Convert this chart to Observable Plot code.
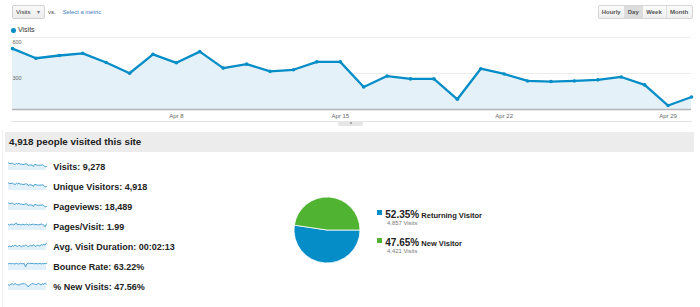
<!DOCTYPE html>
<html><head><meta charset="utf-8">
<script src="https://cdn.jsdelivr.net/npm/d3@7"></script>
<script src="https://cdn.jsdelivr.net/npm/@observablehq/plot@0.6"></script>
<style>
body{margin:0;background:#fff;font-family:Arial,"Liberation Sans",sans-serif;}
#page{position:relative;width:700px;height:307px;overflow:hidden;background:#fff;}
.a{position:absolute;white-space:nowrap;}
.t{position:absolute;white-space:nowrap;height:20px;line-height:20px;}
svg{display:block;}
</style></head><body><div id="page"></div>
<script>
// ---- data ----
const dateStrings = ["2012-04-01","2012-04-02","2012-04-03","2012-04-04","2012-04-05","2012-04-06","2012-04-07","2012-04-08","2012-04-09","2012-04-10",
  "2012-04-11","2012-04-12","2012-04-13","2012-04-14","2012-04-15","2012-04-16","2012-04-17","2012-04-18","2012-04-19","2012-04-20",
  "2012-04-21","2012-04-22","2012-04-23","2012-04-24","2012-04-25","2012-04-26","2012-04-27","2012-04-28","2012-04-29","2012-04-30"];
const visits = [507,427,450,468,392,302,460,389,482,345,378,318,331,397,397,187,279,255,255,85,340,296,238,233,238,247,271,205,33,104];
const yTicks = [300, 600];
const xTickDates = ["2012-04-08","2012-04-15","2012-04-22","2012-04-29"];
const xTickLabels = ["Apr 8","Apr 15","Apr 22","Apr 29"];

const metricLabels = ["Visits: 9,278","Unique Visitors: 4,918","Pageviews: 18,489","Pages/Visit: 1.99","Avg. Visit Duration: 00:02:13","Bounce Rate: 63.22%","% New Visits: 47.56%"];
const sparkVisits = visits;
const sparkUnique = [280,240,250,262,220,172,255,218,265,195,212,180,186,222,220,108,160,146,145,50,190,168,136,133,137,142,154,118,20,60];
const sparkPageviews = [1010,830,905,940,770,610,960,760,970,680,740,640,650,790,800,360,560,500,510,170,670,590,470,460,470,500,540,400,60,210];
const sparkPagesPerVisit = [1.99,1.94,2.01,2.00,1.96,2.02,2.09,1.95,2.01,1.97,1.96,2.01,1.96,1.99,2.02,1.93,2.00,1.96,2.00,2.00,1.97,1.99,1.97,1.97,1.98,2.02,1.99,1.95,1.82,2.02];
const sparkDuration = [120,128,118,135,125,140,130,122,138,128,120,132,126,140,135,118,130,138,126,145,132,124,140,136,128,145,138,150,142,165];
const sparkBounce = [63.0,63.5,62.8,63.4,63.0,62.7,63.6,63.1,62.5,63.8,63.2,62.9,63.4,59.0,62.8,64.0,63.2,63.5,63.2,63.6,62.9,63.4,63.1,63.0,63.5,62.7,63.3,63.0,63.6,63.2];
const sparkNew = [47.0,46.5,47.8,48.0,47.2,48.3,47.5,47.0,46.8,47.5,48.0,47.9,48.2,47.6,46.8,45.0,46.5,47.2,48.5,48.0,47.6,47.0,47.8,48.6,47.4,46.9,48.2,47.3,48.8,47.6];
const sparkSeries = [sparkVisits, sparkUnique, sparkPageviews, sparkPagesPerVisit, sparkDuration, sparkBounce, sparkNew];

const pieLabels = ["Returning Visitor","New Visitor"];
const piePercents = ["52.35%","47.65%"];
const pieVisits = [4857, 4421];
const pieVisitLabels = ["4,857 Visits","4,421 Visits"];
const pieColors = ["#058dc7","#50b432"];

// ---- helpers ----
const page = document.getElementById("page");
function box(x, y, w, h, css){const d=document.createElement("div");d.className="a";d.style.cssText=`left:${x}px;top:${y}px;width:${w}px;height:${h}px;`+(css||"");page.appendChild(d);return d;}
function txt(x, cy, s, css){const d=document.createElement("div");d.className="t";d.style.cssText=`left:${x}px;top:${cy-10}px;`+(css||"");d.textContent=s;page.appendChild(d);return d;}
function place(node, x, y){node.style.position="absolute";node.style.left=x+"px";node.style.top=y+"px";page.appendChild(node);}

// ---- top controls ----
box(12,4.5,33,14.5,"box-sizing:border-box;border:1px solid #d2d2d2;border-radius:2px;background:linear-gradient(#fafafa,#ececec);");
txt(16,12,"Visits","font-size:6.2px;color:#333;");
txt(36.5,12,"▾","font-size:6px;color:#777;");
txt(48,12,"vs.","font-size:6px;color:#444;");
txt(62.7,12,"Select a metric","font-size:5.8px;color:#3a78c2;");

box(598,4.7,94.5,14.8,"box-sizing:border-box;border:1px solid #d6d6d6;border-radius:2px;background:linear-gradient(#fbfbfb,#f0f0f0);");
const btns = [["Hourly",598,624.3,false],["Day",624.3,642.3,true],["Week",642.3,665.7,false],["Month",665.7,692.5,false]];
btns.forEach(([s,x0,x1,on],i)=>{
  if(on) box(x0,5.7,x1-x0,12.8,"background:#dcdcdc;");
  if(i>0) box(x0,5.7,1,12.8,"background:#dedede;");
  txt(x0,12.2,s,"font-size:6px;font-weight:bold;color:#555;text-align:center;width:"+(x1-x0)+"px;");
});

// legend
box(11,28,4.6,4.6,"border-radius:50%;background:#058dc7;");
txt(18,30.3,"Visits","font-size:7px;color:#333;");

// ---- main chart ----
const mainData = dateStrings.map((d,i)=>({date:new Date(d+"T00:00:00Z"), visits:visits[i]}));
const tickDates = xTickDates.map(d=>new Date(d+"T00:00:00Z"));
const main = Plot.plot({
  width:700, height:106, marginLeft:12, marginRight:9, marginTop:17, marginBottom:17,
  style:{background:"transparent", fontFamily:"Arial, 'Liberation Sans', sans-serif", overflow:"visible"},
  x:{type:"utc", domain:[mainData[0].date, mainData[mainData.length-1].date]},
  y:{domain:[0,600], axis:null},
  marks:[
    Plot.ruleY(yTicks, {stroke:"#ececec", strokeWidth:1}),
    Plot.areaY(mainData, {x:"date", y:"visits", fill:"#e5f1f8"}),
    Plot.ruleY([0], {stroke:"#b4b4b4", strokeWidth:1.5}),
    Plot.lineY(mainData, {x:"date", y:"visits", stroke:"#058dc7", strokeWidth:2.3, strokeLinejoin:"round"}),
    Plot.dot(mainData, {x:"date", y:"visits", r:1.8, fill:"#058dc7", stroke:"none"}),
    Plot.text(yTicks, {x:()=>mainData[0].date, y:d=>d, text:d=>String(d), textAnchor:"start", dy:4.6, fontSize:5.5, fill:"#666"}),
    Plot.axisX(tickDates, {tickSize:0, tickPadding:4, fontSize:6, fill:"#666", tickFormat:(d,i)=>xTickLabels[i], anchor:"bottom"})
  ]
});
place(main, 0, 20);

// separator + handle
box(11,121,681,1,"background:#e4e4e4;");
box(338,121,25,4.5,"background:#e6e6e6;border-radius:0 0 2px 2px;");
box(349.5,122,2,2,"background:#999;border-radius:50%;");

// ---- lower panel ----
box(2,130,1,177,"background:#f1f1f1;");
box(5,132,689,20,"background:#ececec;");
txt(9,142,"4,918 people visited this site","font-size:9.8px;font-weight:bold;color:#222;");

const rowCenters = [167.3,187.3,207,226.8,247,267,287.2];
sparkSeries.forEach((series,k)=>{
  const data = series.map((v,i)=>({i, v}));
  const mx = d3.max(series), mn = d3.min(series), rg = mx - mn;
  const sp = Plot.plot({
    width:38, height:8, margin:0,
    style:{background:"transparent", overflow:"visible"},
    x:{axis:null}, y:{axis:null, domain:[mx - rg*1.9, mx + rg*0.12]},
    marks:[
      Plot.areaY(data, {x:"i", y:"v", y1:mx - rg*1.9, fill:"#e2f0f9"}),
      Plot.lineY(data, {x:"i", y:"v", stroke:"#3d9acc", strokeWidth:0.9})
    ]
  });
  place(sp, 8, rowCenters[k]-5);
  txt(53.3, rowCenters[k], metricLabels[k], "font-size:9px;font-weight:bold;color:#222;");
});

// ---- pie ----
const pieData = pieLabels.map((l,i)=>({label:l, value:pieVisits[i], color:pieColors[i]}));
function pieMark(index, scales, values, dims){
  const g = d3.create("svg:g");
  const cx = dims.width/2, cy = dims.height/2, r = 33;
  const arcs = d3.pie().sort(null).value(d=>d.value).startAngle(Math.PI/2).endAngle(Math.PI/2+2*Math.PI)(pieData);
  g.attr("transform",`translate(${cx},${cy})`)
   .selectAll("path").data(arcs).join("path")
   .attr("d", d3.arc().innerRadius(0).outerRadius(r))
   .attr("fill", d=>d.data.color).attr("stroke","#fff").attr("stroke-width",0.8);
  return g.node();
}
const pie = Plot.plot({width:70, height:70, margin:0, style:{background:"transparent", overflow:"visible"}, marks:[pieMark]});
place(pie, 292, 195);

// pie legend
const legRows = [213, 241];
pieData.forEach((d,i)=>{
  const cy = legRows[i];
  box(377, cy-2.6, 5, 5, "background:"+d.color+";");
  const el = txt(385.3, cy, "", "font-weight:bold;color:#222;");
  el.innerHTML = `<span style="font-size:10px;">${piePercents[i]}</span><span style="font-size:7.5px;"> ${d.label}</span>`;
  txt(387, cy+10.3, pieVisitLabels[i], "font-size:5.9px;color:#777;");
});
</script></body></html>
